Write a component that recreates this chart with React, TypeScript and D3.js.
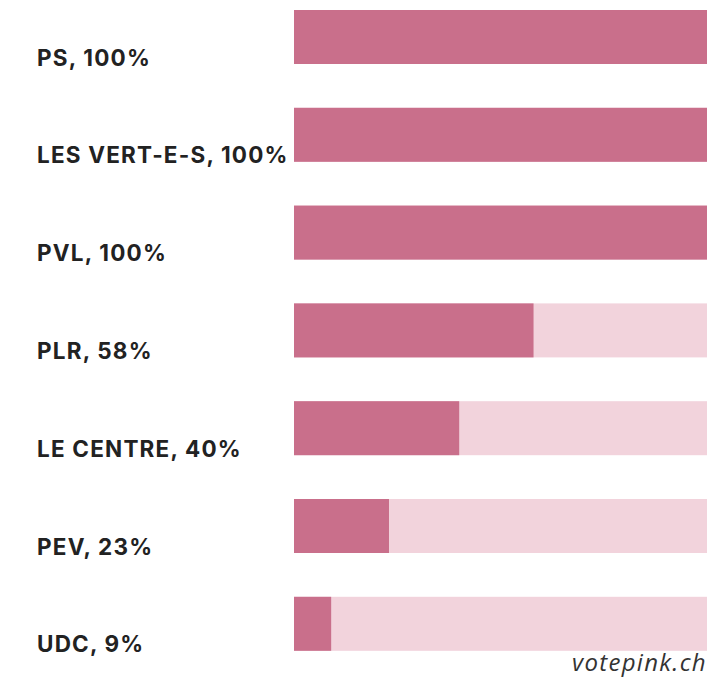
import React from "react";
import * as d3 from "d3";

const parties = ["PS", "LES VERT-E-S", "PVL", "PLR", "LE CENTRE", "PEV", "UDC"];
const values = [100, 100, 100, 58, 40, 23, 9];
const source = "votepink.ch";

const W = 728;
const H = 677;

export default function App() {
  const x = d3.scaleLinear().domain([0, 100]).range([294, 707]);
  const bh = 54;
  const step = 97.8;
  return (
    <svg width={W} height={H} style={{ position: "absolute", left: 0, top: 0, background: "#fff" }}>
      <rect x={0} y={0} width={W} height={H} fill="#fff" />
      {parties.map((p, i) => {
        const y0 = 10 + i * step;
        return (
          <g key={p}>
            <rect x={x(0)} y={y0} width={x(100) - x(0)} height={bh} fill="#f2d3dc" />
            <rect x={x(0)} y={y0} width={x(values[i]) - x(0)} height={bh} fill="#c96f8b" />
            <text x={37} y={y0 + bh + 1.5} fontFamily="Inter, sans-serif" fontWeight={700} fontSize={22.5} letterSpacing={1.2} fill="#222">
              {`${p}, ${values[i]}%`}
            </text>
          </g>
        );
      })}
      <text x={707} y={671} textAnchor="end" fontFamily="'Open Sans', 'Noto Sans', sans-serif" fontStyle="italic" fontSize={24} letterSpacing={1.3} fill="#333">
        {source}
      </text>
    </svg>
  );
}
